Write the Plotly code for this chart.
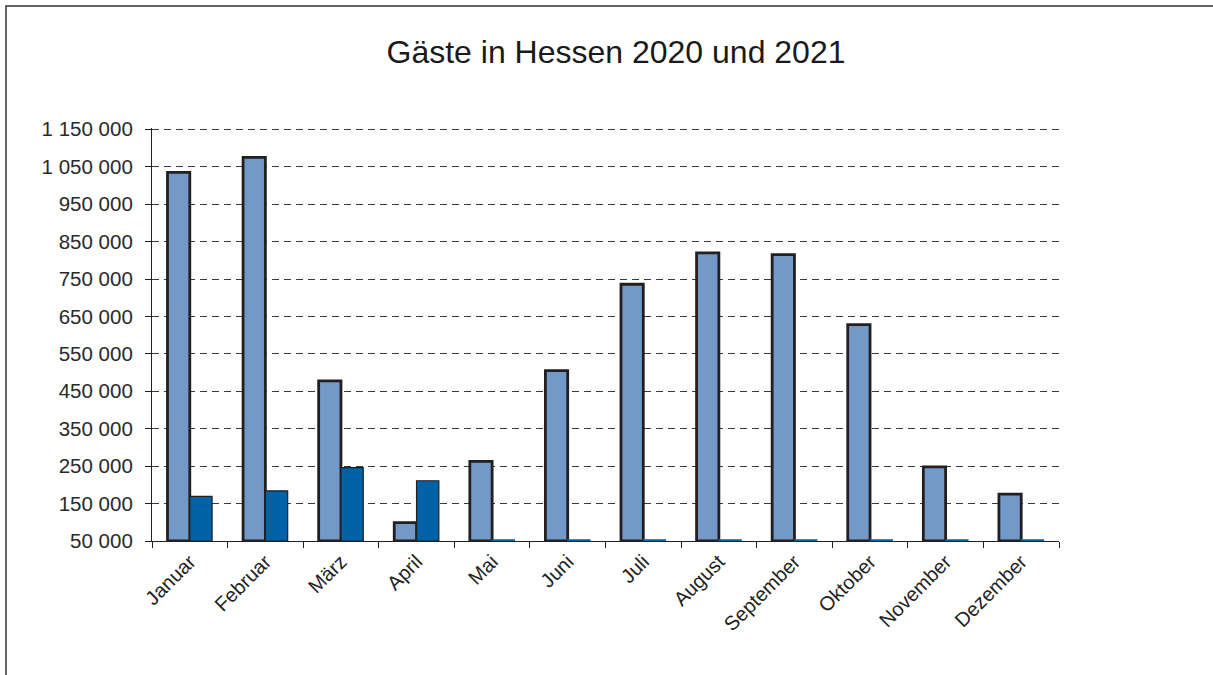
import plotly.graph_objects as go

# ---- data ----
months = ["Januar", "Februar", "März", "April", "Mai", "Juni", "Juli",
          "August", "September", "Oktober", "November", "Dezember"]
gaeste_2020 = [1035000, 1075000, 478000, 99000, 263000, 505000, 736000,
               820000, 815000, 628000, 248000, 175000]
gaeste_2021 = [169000, 184000, 246000, 211000, 0, 0, 0, 0, 0, 0, 0, 0]
y_tickvals = [50000, 150000, 250000, 350000, 450000, 550000, 650000,
              750000, 850000, 950000, 1050000, 1150000]

# ---- layout constants ----
W, H = 1213, 675
ML, MR, MT, MB = 152, 154, 128, 134
Y_MIN, Y_MAX = 50000, 1153500   # a little headroom so the top gridline is drawn
MIN_VIS = 3000  # Excel draws zero bars as a thin strip on the axis

C2020 = "#7399C9"
C2021 = "#0062A6"
EDGE = "#231F20"
FONT = "Liberation Sans, Arial, sans-serif"


def heights(vals):
    return [max(v - Y_MIN, MIN_VIS) for v in vals]


def edge_colors(vals, fill):
    return [EDGE if v > Y_MIN else fill for v in vals]


fig = go.Figure()
fig.add_trace(go.Bar(
    name="2020", x=months, y=heights(gaeste_2020), base=Y_MIN,
    customdata=gaeste_2020, hovertemplate="%{x}: %{customdata:,}<extra>2020</extra>",
    marker=dict(color=C2020, line=dict(color=edge_colors(gaeste_2020, C2020), width=2.8)),
))
fig.add_trace(go.Bar(
    name="2021", x=months, y=heights(gaeste_2021), base=Y_MIN,
    customdata=gaeste_2021, hovertemplate="%{x}: %{customdata:,}<extra>2021</extra>",
    marker=dict(color=C2021, line=dict(color=edge_colors(gaeste_2021, C2021), width=1.2)),
))

pw = W - ML - MR
ph = H - MT - MB


def px_x(p):
    return (p - ML) / pw


def px_y(p):
    return (H - MB - p) / ph


fig.update_layout(
    width=W, height=H,
    margin=dict(l=ML, r=MR, t=MT, b=MB, pad=0),
    paper_bgcolor="white", plot_bgcolor="white",
    barmode="group", bargap=0.41, bargroupgap=0,
    showlegend=False,
    separators=", ",
    font=dict(family=FONT, size=17, color="#222"),
    title=dict(text="Gäste in Hessen 2020 und 2021", x=616 / W, xref="container",
               xanchor="center", y=1 - 52 / H, yref="container", yanchor="middle",
               font=dict(family=FONT, size=32, color="#1a1a1a")),
    xaxis=dict(type="category", showline=True, linecolor=EDGE, linewidth=1.2,
               ticks="outside", tickson="boundaries", ticklen=6, tickcolor=EDGE,
               tickwidth=1.2, tickangle=-45, showgrid=False,
               tickfont=dict(family=FONT, size=20, color="#222")),
    yaxis=dict(range=[Y_MIN, Y_MAX], tickvals=y_tickvals, tickformat=",d",
               showline=True, linecolor=EDGE, linewidth=1.2,
               ticks="outside", ticklen=6, tickcolor=EDGE, tickwidth=1.2,
               showgrid=True, gridcolor="#3a3a3a", gridwidth=1.2, griddash="7px,5px",
               zeroline=False, ticklabelstandoff=8,
               tickfont=dict(family=FONT, size=20.5, color="#2a2a2a")),
    shapes=[dict(type="rect", xref="paper", yref="paper",
                 x0=px_x(6), x1=px_x(1240), y0=px_y(700), y1=px_y(6),
                 line=dict(color="#333", width=1.5), fillcolor="rgba(0,0,0,0)",
                 layer="below")],
)

fig.write_html("out.html", config={"displayModeBar": False},
               post_script="document.body.style.margin='0';document.body.style.overflow='hidden';")
